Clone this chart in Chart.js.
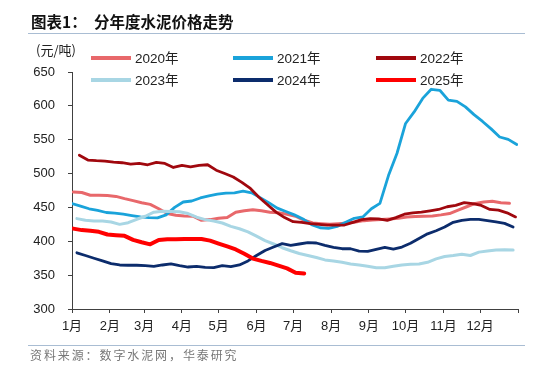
<!DOCTYPE html>
<html><head><meta charset="utf-8">
<script src="https://cdn.jsdelivr.net/npm/chart.js@4"></script>
<style>
html,body{margin:0;padding:0;background:#fff;}
#wrap{position:relative;width:554px;height:368px;overflow:hidden;background:#fff;}
canvas{position:absolute;left:0;top:0;}
.t{position:absolute;white-space:nowrap;font-family:"Noto Sans CJK SC";line-height:1;}
.rule{position:absolute;left:28px;width:497px;height:1px;background:#A9BDD3;}
</style></head><body>
<div id="wrap">
<canvas id="c" width="554" height="368"></canvas>
<div class="t" style="left:31px;top:14px;font-size:15.5px;font-weight:bold;color:#111">图表1：</div>
<div class="t" style="left:94px;top:14px;font-size:15.5px;font-weight:bold;color:#111">分年度水泥价格走势</div>
<div class="rule" style="top:33px"></div>
<div class="t" style="left:36px;top:43px;font-size:13px;color:#222">(元/吨)</div>
<div class="rule" style="top:345px"></div>
<div class="t" style="left:30px;top:349px;font-size:12px;color:#777;letter-spacing:1.9px">资料来源：数字水泥网，华泰研究</div>
</div>
<script>
// ---- data ----
const monthLabels = ['1月','2月','3月','4月','5月','6月','7月','8月','9月','10月','11月','12月',''];
const monthStartDays = [0,31,59,90,120,151,181,212,243,273,304,334,365];
const seriesNames = ['2020年','2021年','2022年','2023年','2024年','2025年'];
// first observation day-of-year for each series (weekly observations afterwards)
const firstDay = [1,0,6,4,4,1];

const v2020 = [472.8,472,468,468,467.5,466.3,463,460,457,454.5,448,441,438.5,437.5,437,431,432,434,435,443,445,446.5,445,443,442,440,437,431,427,426,425,426,427,428.5,430.5,431.5,432,433,434,436,436.5,437,437.5,439,441,446,451,456,458,459,457,456];
const v2021 = [455.6,452,448,445.5,442.5,441.5,440,438,436,435,434.5,439,450,458,459.5,464,467,469.5,471,471.4,474,471.5,464.5,457,449,444,439,433,424.5,420,419,422,428,434,436,448,456,497,530,574,591,611,624.5,623,608.5,606.7,598.5,587,577,566,554,550.5,543];
const v2022 = [527,520,519,518.5,517,516,514,515,513,516.5,515,509,512,510,512,513,505,500,495,487,478,465,454,443,435,429,428,426,425,424,424,424,428,432,433.5,433,431,435,440,442,443,445,447,451,453,457,455.6,453,447,446,442,436];
const v2023 = [433.5,431,430,430,428.5,425,427.5,432.5,437,443,444.3,444,443.5,441,435.5,432,430,427,422,418.5,414,407.5,401,396,390.5,386,382,379,376,372.5,371,369,366.5,365,363,361,361,363,365,366,366.5,369,374,377.5,379,381,379,384,385.5,387,387.5,387];
const v2024 = [383,379,375,371,367,365,364.6,364.6,364,363,365,366.5,364,362,363,361.5,361,364,362.5,365,371,379,386.5,391.5,396.5,394,396,398,397.5,394,391,389,389,385.5,385,388,391,388.5,391.5,397,404,411,415.5,421,428,431,432.5,432.5,430.5,428.5,426.5,421];
const v2025 = [418.7,416.5,415.5,414,410,409,408,402,398.5,395.5,402,403,403,403.4,403.4,403.4,401,396.6,392.5,388,381.5,374.5,371,368,364,360,353.5,352.3];

const seriesValues = [v2020,v2021,v2022,v2023,v2024,v2025];
const seriesColors = ['#E8686B','#1AA3DA','#A0080E','#A8D6E4','#0C2C6C','#FF0000'];
const seriesWidths = [3,2.8,2.8,3,2.8,4];

const datasets = seriesNames.map((name,k)=>({
  label:name,
  data: seriesValues[k].map((v,i)=>({x:firstDay[k]+7*i,y:v})),
  borderColor:seriesColors[k],
  backgroundColor:seriesColors[k],
  borderWidth:seriesWidths[k],
  pointRadius:0,
  tension:0,
  fill:false,
  borderJoinStyle:'round',
  borderCapStyle:'round',
  order:seriesNames.length-k
}));

const legendPlugin = {
  id:'customLegend',
  afterDraw(chart){
    const ctx=chart.ctx;
    const cols=[91,233,376], rows=[58,80];
    ctx.save();
    ctx.font='13.5px "Liberation Sans","Noto Sans CJK SC"';
    ctx.textBaseline='middle';
    ctx.textAlign='left';
    chart.data.datasets.forEach((ds,i)=>{
      const x=cols[i%3], y=rows[Math.floor(i/3)];
      ctx.strokeStyle=ds.borderColor; ctx.lineWidth=4; ctx.lineCap='butt';
      ctx.beginPath(); ctx.moveTo(x,y); ctx.lineTo(x+40,y); ctx.stroke();
      ctx.fillStyle='#222'; ctx.fillText(ds.label, x+44, y+1);
    });
    ctx.restore();
  }
};

const tickFont = {family:'"Liberation Sans","Noto Sans CJK SC"', size:13};
new Chart(document.getElementById('c'),{
  type:'line',
  data:{datasets},
  plugins:[legendPlugin],
  options:{
    responsive:false, animation:false, devicePixelRatio:1,
    layout:{padding:{left:0,right:36,top:72,bottom:29}},
    plugins:{legend:{display:false},tooltip:{enabled:false}},
    scales:{
      x:{type:'linear',min:0,max:365,
        afterBuildTicks:s=>{s.ticks=monthStartDays.map(v=>({value:v}));},
        afterFit:s=>{s.height=30;},
        grid:{display:true,drawOnChartArea:false,drawTicks:true,tickLength:4,color:'#404040',tickColor:'#404040'},
        border:{display:true,color:'#404040',width:1},
        ticks:{autoSkip:false,maxRotation:0,padding:6,font:tickFont,color:'#222',
          callback:(v,i)=>monthLabels[i] ?? ''}
      },
      y:{min:300,max:650,
        afterFit:s=>{s.width=72;},
        grid:{display:true,drawOnChartArea:false,drawTicks:true,tickLength:4,color:'#404040',tickColor:'#404040'},
        border:{display:true,color:'#404040',width:1},
        ticks:{stepSize:50,padding:13,font:tickFont,color:'#222'}
      }
    }
  }
});
</script>
</body></html>
